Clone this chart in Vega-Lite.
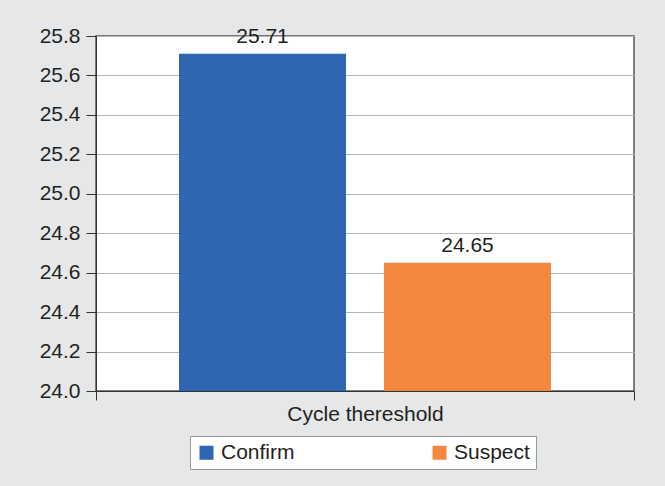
{
  "$schema": "https://vega.github.io/schema/vega-lite/v6.json",
  "width": 538,
  "height": 355,
  "autosize": {"type": "none"},
  "padding": {"left": 96, "top": 36, "right": 31, "bottom": 95},
  "background": "#e6e7e8",
  "config": {
    "view": {"stroke": "#555555", "strokeWidth": 1.5, "fill": "white"},
    "font": "Liberation Sans"
  },
  "data": {
    "values": [
      {"group": "Cycle thereshold", "series": "Confirm", "value": 25.71},
      {"group": "Cycle thereshold", "series": "Suspect", "value": 24.65}
    ]
  },
  "encoding": {
    "x": {
      "field": "group",
      "type": "nominal",
      "scale": {"paddingInner": 0, "paddingOuter": 0},
      "axis": {
        "title": null,
        "labelAngle": 0,
        "tickBand": "extent",
        "labelFontSize": 21,
        "labelColor": "#231f20",
        "tickColor": "#333333",
        "tickSize": 9,
        "domainColor": "#333333",
        "labelPadding": 3,
        "grid": false
      }
    },
    "xOffset": {
      "field": "series",
      "type": "nominal",
      "scale": {"paddingInner": 0.1854, "paddingOuter": 0.405}
    },
    "y": {
      "field": "value",
      "type": "quantitative",
      "scale": {"domain": [24, 25.8], "zero": false, "nice": false},
      "axis": {
        "title": null,
        "values": [24, 24.2, 24.4, 24.6, 24.8, 25, 25.2, 25.4, 25.6, 25.8],
        "format": ".1f",
        "labelFontSize": 21,
        "labelColor": "#231f20",
        "tickColor": "#333333",
        "tickSize": 10,
        "domainColor": "#333333",
        "labelPadding": 6,
        "grid": true,
        "gridColor": "#b5b5b5"
      }
    }
  },
  "layer": [
    {
      "mark": {"type": "bar"},
      "encoding": {
        "y2": {"datum": 24},
        "color": {
          "field": "series",
          "type": "nominal",
          "scale": {"domain": ["Confirm", "Suspect"], "range": ["#2e66b1", "#f5883f"]},
          "legend": {
            "orient": "none",
            "legendX": 94,
            "legendY": 400,
            "direction": "horizontal",
            "title": null,
            "fillColor": "white",
            "strokeColor": "#999999",
            "padding": 6,
            "symbolType": "square",
            "symbolSize": 196,
            "symbolStrokeWidth": 0,
            "symbolOpacity": 1,
            "labelFontSize": 21,
            "labelOffset": 4,
            "labelColor": "#231f20",
            "columnPadding": 134
          }
        }
      }
    },
    {
      "mark": {"type": "text", "baseline": "alphabetic", "dy": -11, "fontSize": 21, "color": "#231f20"},
      "encoding": {
        "text": {"field": "value", "type": "quantitative", "format": ".2f"}
      }
    }
  ]
}
